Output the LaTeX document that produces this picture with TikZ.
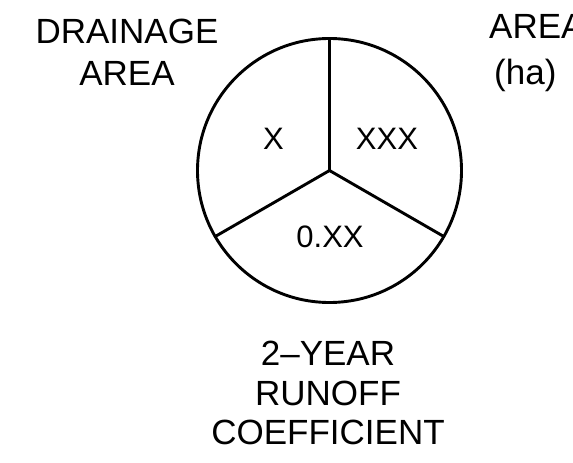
\documentclass[tikz,border=0pt]{standalone}
\usepackage{fontspec}
\setmainfont{Liberation Sans}
\begin{document}
\begin{tikzpicture}[x=1pt,y=-1pt,
  rim/.style={line width=2.9pt},
  divider/.style={line width=2.9pt, line cap=round},
  label/.style={inner sep=0pt, align=center, font=\fontsize{35}{42}\selectfont},
  value/.style={inner sep=0pt, font=\fontsize{31}{36}\selectfont}]
\useasboundingbox (0,0) rectangle (573,463);
\clip (0,0) rectangle (573,463);
\coordinate (c) at (329.5,170.5);
\draw[rim] (c) circle[radius=132];
\path (c) ++(0,-132) coordinate (t);
\path (c) ++(-114.3,66) coordinate (l);
\path (c) ++(114.3,66) coordinate (r);
\draw[divider] (c) -- (t);
\draw[divider] (c) -- (l);
\draw[divider] (c) -- (r);
\node[label, anchor=north] (drain) at (127,19) {DRAINAGE\\AREA};
\node[label, anchor=north west, align=left, font=\fontsize{35}{46}\selectfont] (area) at (489,14) {AREA\\\hspace*{5pt}(ha)};
\node[label, anchor=north, font=\fontsize{35}{39.5}\selectfont] (coef) at (328,341) {2--YEAR\\RUNOFF\\COEFFICIENT};
\node[value, anchor=north] (x1) at (273.5,128) {X};
\node[value, anchor=north] (x3) at (387,128) {XXX};
\node[value, anchor=north] (x2) at (330,226) {0.XX};
\end{tikzpicture}
\end{document}
